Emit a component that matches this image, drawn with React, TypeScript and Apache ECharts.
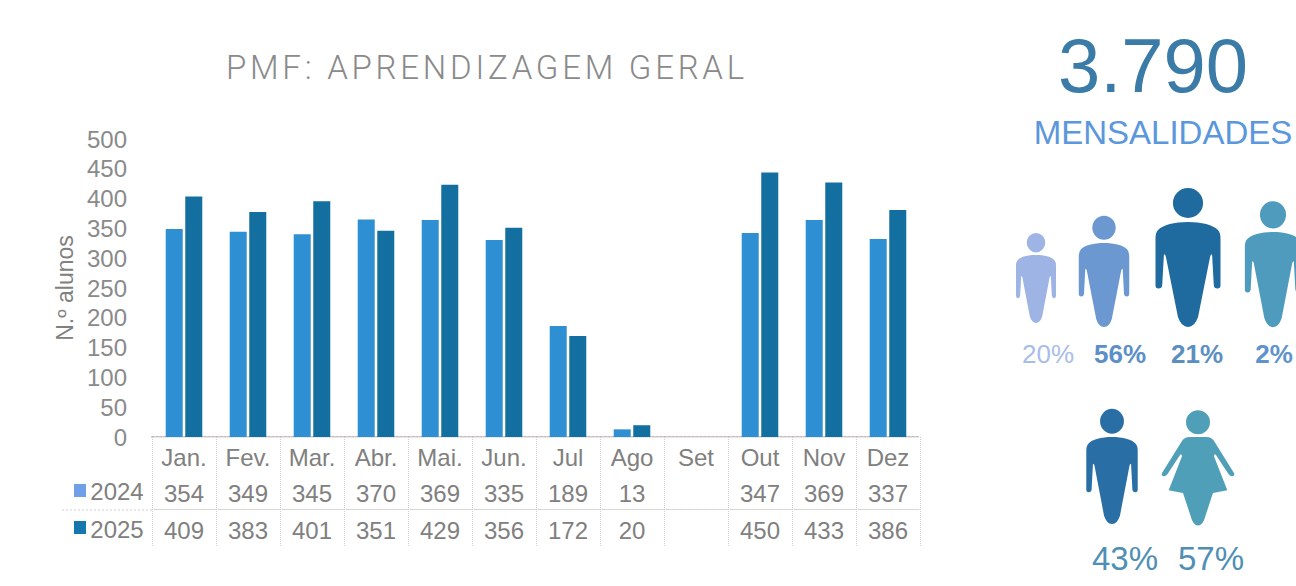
import React, { useEffect, useRef } from "react";
import * as echarts from "echarts";

const months = ["Jan.", "Fev.", "Mar.", "Abr.", "Mai.", "Jun.", "Jul", "Ago", "Set", "Out", "Nov", "Dez"];
const values2024: (number | null)[] = [354, 349, 345, 370, 369, 335, 189, 13, null, 347, 369, 337];
const values2025: (number | null)[] = [409, 383, 401, 351, 429, 356, 172, 20, null, 450, 433, 386];
const total = "3.790";
const totalLabel = "MENSALIDADES";
const titleText = "PMF: APRENDIZAGEM GERAL";
const agePercents = ["20%", "56%", "21%", "2%"];
const genderPercents = ["43%", "57%"];

const MAN =
  "M -45 -57 A 45 45 0 1 1 45 -57 A 45 45 0 1 1 -45 -57 Z " +
  "M 0 0 C -40 0 -75 8 -90 25 Q -97 32 -97 50 L -97 190 Q -97 200 -88 200 Q -78 200 -77 190 L -72 100 Q -70 92 -66 104 L -30 285 Q -20 315 0 315 Q 20 315 30 285 L 66 104 Q 70 92 72 100 L 77 190 Q 78 200 88 200 Q 97 200 97 190 L 97 50 Q 97 32 90 25 C 75 8 40 0 0 0 Z";
const WOMAN =
  "M -36 -44 A 36 36 0 1 1 36 -44 A 36 36 0 1 1 -36 -44 Z " +
  "M -25 0 L 25 0 Q 42 0 50 15 L 108 108 Q 112 118 102 118 Q 97 118 92 112 L 54 54 Q 50 48 48 58 L 88 160 L 45 168 L 18 250 Q 10 266 0 266 Q -10 266 -18 250 L -45 168 L -88 160 L -48 58 Q -50 48 -54 54 L -92 112 Q -97 118 -102 118 Q -112 118 -108 108 L -50 15 Q -42 0 -25 0 Z";
echarts.graphic.registerShape("man", echarts.graphic.extendPath(MAN, {}));
echarts.graphic.registerShape("woman", echarts.graphic.extendPath(WOMAN, {}));

const FONT = "Liberation Sans";
const GREY = "#808080";
const label = (text: string, x: number, y: number, size: number, fill: string, extra: object = {}) => ({
  type: "text",
  x,
  y,
  style: { text, fontSize: size, fontFamily: FONT, fill, textAlign: "center", textVerticalAlign: "middle", ...extra },
});
const man = (x: number, y: number, sx: number, sy: number, fill: string) => ({
  type: "man",
  x,
  y,
  scaleX: sx,
  scaleY: sy,
  style: { fill },
});
const rowLine = (y: number) => ({
  type: "line",
  shape: { x1: 62, y1: y, x2: 152, y2: y },
  style: { stroke: "#cfcfcf", lineWidth: 1, lineDash: [2, 2] },
});

export default function App() {
  const ref = useRef<HTMLDivElement>(null);
  useEffect(() => {
    const chart = echarts.init(ref.current!, undefined, { renderer: "svg" });
    const rowAxis = (data: (number | null)[], offset: number, lineColor: string) => ({
      type: "category",
      position: "bottom",
      offset,
      data: data.map((v) => (v === null ? "" : String(v))),
      axisLine: { show: true, lineStyle: { color: lineColor, type: "dotted", width: 1 } },
      axisTick: { show: false },
      axisLabel: { interval: 0, margin: 9, fontSize: 24, fontFamily: FONT, color: GREY, hideOverlap: false },
    });
    chart.setOption({
      animation: false,
      backgroundColor: "#ffffff",
      title: {
        text: titleText,
        left: 221,
        top: 46,
        textStyle: { fontFamily: "Roboto", fontWeight: 300, fontSize: 33, color: "#8a8a8a" },
      },
      grid: { left: 152, right: 376, top: 139, bottom: 149 },
      xAxis: [
        {
          type: "category",
          data: months,
          axisLine: { show: true, lineStyle: { color: "#c4baba", type: "dotted", width: 2 } },
          axisTick: { show: true, length: 110, lineStyle: { color: "#cfcfcf", type: "dotted", width: 1 } },
          axisLabel: { interval: 0, margin: 8, fontSize: 24, fontFamily: FONT, color: GREY },
        },
        rowAxis(values2024, 35, "#f0f0f0"),
        rowAxis(values2025, 72, "#cfcfcf"),
      ],
      yAxis: [
        {
          type: "value",
          min: 0,
          max: 500,
          interval: 50,
          name: "N.º alunos",
          nameLocation: "middle",
          nameRotate: 90,
          nameGap: 76,
          nameTextStyle: { fontFamily: FONT, fontSize: 23, color: GREY },
          axisLine: { show: false },
          axisTick: { show: false },
          splitLine: { show: false },
          axisLabel: { margin: 25, fontSize: 24, fontFamily: FONT, color: "#8a8a8a" },
        },
        {
          type: "value",
          min: 0,
          max: 507,
          show: false,
          splitLine: { show: false },
        },
      ],
      series: [
        { name: "2024", type: "bar", xAxisIndex: 0, yAxisIndex: 1, data: values2024, barWidth: 17, barGap: "15%", itemStyle: { color: "#2e8fd2" } },
        { name: "2025", type: "bar", xAxisIndex: 0, yAxisIndex: 1, data: values2025, barWidth: 17, barGap: "15%", itemStyle: { color: "#126f9f" } },
      ],
      graphic: [
        rowLine(510),
        { type: "rect", shape: { x: 74, y: 484, width: 12, height: 13 }, style: { fill: "#6f9fe6" } },
        { type: "rect", shape: { x: 74, y: 521, width: 12, height: 13 }, style: { fill: "#1577ac" } },
        label("2024", 117, 491, 24, GREY),
        label("2025", 117, 529, 24, GREY),
        label(total, 1153, 65, 76, "#3a7ba8"),
        label(totalLabel, 1163, 132, 33, "#5b97dc"),
        man(1036, 255, 0.206, 0.216, "#9db4e4"),
        man(1104, 243, 0.26, 0.267, "#6b98d0"),
        man(1188, 222, 0.335, 0.333, "#1f6a9e"),
        man(1273, 232, 0.29, 0.302, "#4f9bbd"),
        man(1112, 437, 0.265, 0.276, "#2a6ea6"),
        {
          type: "woman",
          x: 1198,
          y: 437,
          scaleX: 1 / 3,
          scaleY: 1 / 3,
          style: { fill: "#4f9fb8" },
        },
        label(agePercents[0], 1048, 354, 26, "#a8bde8"),
        label(agePercents[1], 1120, 354, 26, "#5c8fc8", { fontWeight: "bold" }),
        label(agePercents[2], 1197, 354, 26, "#5b8fc0", { fontWeight: "bold" }),
        label(agePercents[3], 1274, 354, 26, "#5f93cc", { fontWeight: "bold" }),
        label(genderPercents[0], 1125, 558, 33, "#4f8fb4"),
        label(genderPercents[1], 1211, 558, 33, "#4f8fb4"),
      ],
    });
    ref.current!.querySelectorAll("text").forEach((t) => {
      if (t.textContent === titleText) (t as SVGTextElement).style.letterSpacing = "3.75px";
    });
    return () => chart.dispose();
  }, []);
  return <div ref={ref} style={{ position: "fixed", left: 0, top: 0, width: 1296, height: 586 }} />;
}
